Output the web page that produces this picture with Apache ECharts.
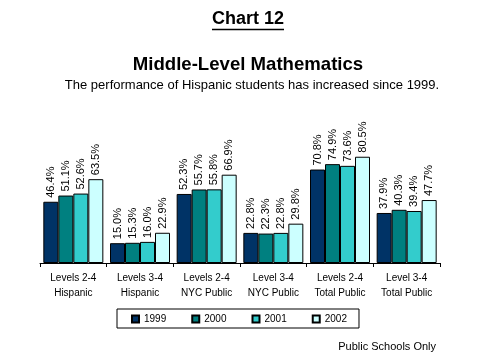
<!DOCTYPE html>
<html><head><meta charset="utf-8">
<script src="https://cdn.jsdelivr.net/npm/echarts@6/dist/echarts.min.js"></script>
<style>html,body{margin:0;padding:0;background:#fff}#c{width:479px;height:359px}</style>
</head><body><div id="c"></div>
<script>
const categories = ['Levels 2-4\nHispanic','Levels 3-4\nHispanic','Levels 2-4\nNYC Public','Level 3-4\nNYC Public','Levels 2-4\nTotal Public','Level 3-4\nTotal Public'];
const years = ['1999','2000','2001','2002'];
const v1999 = [46.4, 15.0, 52.3, 22.8, 70.8, 37.9];
const v2000 = [51.1, 15.3, 55.7, 22.3, 74.9, 40.3];
const v2001 = [52.6, 16.0, 55.8, 22.8, 73.6, 39.4];
const v2002 = [63.5, 22.9, 66.9, 29.8, 80.5, 47.7];
const colors = ['#003366','#008080','#33CCCC','#CCFFFF'];
const FONT = 'Liberation Sans, Arial, sans-serif';
const allVals = [v1999, v2000, v2001, v2002];

const chart = echarts.init(document.getElementById('c'), null, {renderer:'canvas'});
chart.setOption({
  animation:false,
  backgroundColor:'#fff',
  graphic:[
    {type:'text', x:248, y:19, style:{text:'Chart 12', x:0, y:0, align:'center', verticalAlign:'middle', font:'bold 18px '+FONT, fill:'#000'}},
    {type:'line', shape:{x1:212,y1:29.5,x2:284,y2:29.5}, style:{stroke:'#000',lineWidth:1.5}},
    {type:'text', x:248, y:65, style:{text:'Middle-Level Mathematics', x:0, y:0, align:'center', verticalAlign:'middle', font:'bold 18.6px '+FONT, fill:'#000'}},
    {type:'text', x:252, y:85, style:{text:'The performance of Hispanic students has increased since 1999.', x:0, y:0, align:'center', verticalAlign:'middle', font:'13px '+FONT, fill:'#000'}},
    {type:'text', x:436, y:347, style:{text:'Public Schools Only', x:0, y:0, align:'right', verticalAlign:'middle', font:'11px '+FONT, fill:'#000'}}
  ],
  legend:{
    data:years, left:117, top:309, orient:'horizontal',
    itemWidth:7, itemHeight:7, itemGap:25,
    padding:[5,12,4,14], borderColor:'#000', borderWidth:1,
    icon:'rect',
    textStyle:{fontFamily:FONT,fontSize:10,color:'#000'}
  },
  grid:{left:40, right:39, top:131, height:132, containLabel:false},
  xAxis:{
    type:'category', data:categories,
    axisLine:{lineStyle:{color:'#000',width:1}},
    axisTick:{show:true, length:4, lineStyle:{color:'#000'}, alignWithLabel:false},
    axisLabel:{fontFamily:FONT,fontSize:10,color:'#000',lineHeight:15,margin:8,interval:0}
  },
  yAxis:{type:'value', min:0, max:100, show:false, splitLine:{show:false}},
  series: years.map((y,i)=>({
    name:y, type:'bar', data:allVals[i],
    barWidth:15, barGap:'0%', barCategoryGap:'10%',
    itemStyle:{color:colors[i], borderColor:'#000', borderWidth:1},
    label:{show:true, position:'top', rotate:90, align:'left', verticalAlign:'middle', distance:4,
      fontFamily:FONT, fontSize:11, color:'#000',
      formatter:p=>p.value.toFixed(1)+'%'}
  }))
});
</script></body></html>
